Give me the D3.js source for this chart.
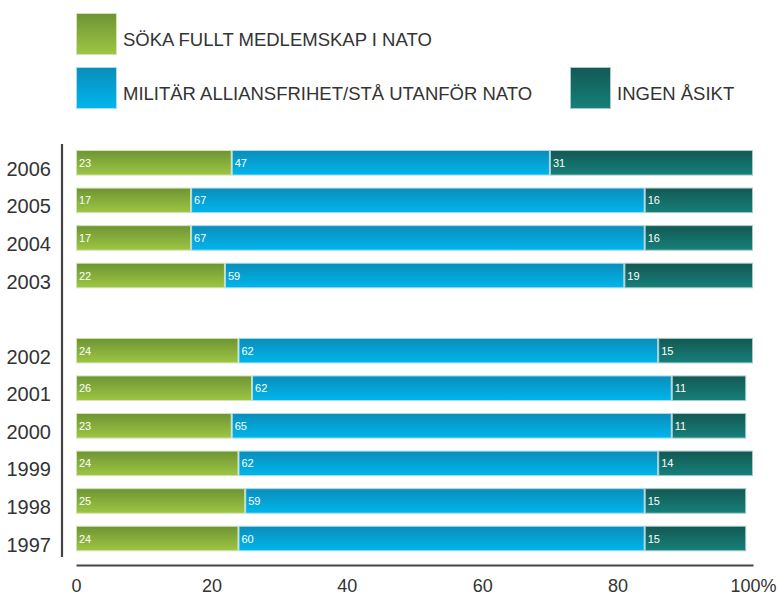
<!DOCTYPE html>
<html><head><meta charset="utf-8">
<script src="https://cdn.jsdelivr.net/npm/d3@7"></script>
<style>body{margin:0;background:#fff}svg{display:block}</style>
</head><body>
<script>
const years = ["2006","2005","2004","2003","","2002","2001","2000","1999","1998","1997"];
const seriesNames = ["SÖKA FULLT MEDLEMSKAP I NATO","MILITÄR ALLIANSFRIHET/STÅ UTANFÖR NATO","INGEN ÅSIKT"];
const nato   = [23,17,17,22,null,24,26,23,24,25,24];
const allians= [47,67,67,59,null,62,62,65,62,59,60];
const ingen  = [31,16,16,19,null,15,11,11,14,15,15];
const xTicks = [0,20,40,60,80,100];
const xTickLabels = ["0","20","40","60","80","100%"];

const grads = [
  {id:"g0", top:"#6e9434", bot:"#9dc643", stroke:"#d3e3b3"},
  {id:"g1", top:"#0a8dba", bot:"#00b6ec", stroke:"#a9dcef"},
  {id:"g2", top:"#135853", bot:"#16807a", stroke:"#a7cbc8"}
];

const W=778,H=595;
const svg=d3.select("body").append("svg").attr("width",W).attr("height",H);
const defs=svg.append("defs");
grads.forEach(g=>{
  const lg=defs.append("linearGradient").attr("id",g.id).attr("x1",0).attr("y1",0).attr("x2",0).attr("y2",1);
  lg.append("stop").attr("offset","0%").attr("stop-color",g.top);
  lg.append("stop").attr("offset","100%").attr("stop-color",g.bot);
});

const x=d3.scaleLinear().domain([0,100]).range([76,753]);
const y=d3.scaleBand().domain(years).range([144,557.3]).paddingInner(0.32).paddingOuter(0.16);

const font="'Liberation Sans', Arial, sans-serif";

// bars
const vals=[nato,allians,ingen];
years.forEach((yr,i)=>{
  if(!yr) return;
  let cum=0;
  vals.forEach((arr,s)=>{
    const v=arr[i];
    const x0=Math.min(cum,100), x1=Math.min(cum+v,100);
    svg.append("rect")
      .attr("x",x(x0)+0.5).attr("y",y(yr)+0.5)
      .attr("width",x(x1)-x(x0)-1).attr("height",y.bandwidth()-1)
      .attr("fill",`url(#${grads[s].id})`)
      .attr("stroke",grads[s].stroke).attr("stroke-width",1);
    svg.append("text")
      .attr("x",x(x0)+3).attr("y",y(yr)+y.bandwidth()/2+4)
      .attr("fill","#fff").attr("font-family",font).attr("font-size",11)
      .text(v);
    cum+=v;
  });
  svg.append("text")
    .attr("x",51).attr("y",y(yr)+y.bandwidth()/2+13)
    .attr("text-anchor","end").attr("fill","#333")
    .attr("font-family",font).attr("font-size",20).text(yr);
});

// axes
svg.append("line").attr("x1",62).attr("x2",62).attr("y1",144).attr("y2",557)
  .attr("stroke","#444").attr("stroke-width",2.2);
const xAxis=d3.axisBottom(x).tickValues(xTicks).tickSize(0).tickPadding(14)
  .tickFormat((d,i)=>xTickLabels[i]);
const gx=svg.append("g").attr("transform","translate(0,565)").call(xAxis);
gx.select(".domain").attr("stroke","#444").attr("stroke-width",2.2);
gx.selectAll("text").attr("font-family",font).attr("font-size",18).attr("fill","#333");

// legend
const legendPos=[{x:76,y:13},{x:76,y:67},{x:570,y:67}];
seriesNames.forEach((n,s)=>{
  const p=legendPos[s];
  svg.append("rect").attr("x",p.x+0.5).attr("y",p.y+0.5).attr("width",40).attr("height",41)
    .attr("fill",`url(#${grads[s].id})`).attr("stroke",grads[s].stroke).attr("stroke-width",1);
  svg.append("text").attr("x",p.x+47).attr("y",p.y+33)
    .attr("font-family",font).attr("font-size",18.5).attr("fill","#333").text(n);
});
</script>
</body></html>
